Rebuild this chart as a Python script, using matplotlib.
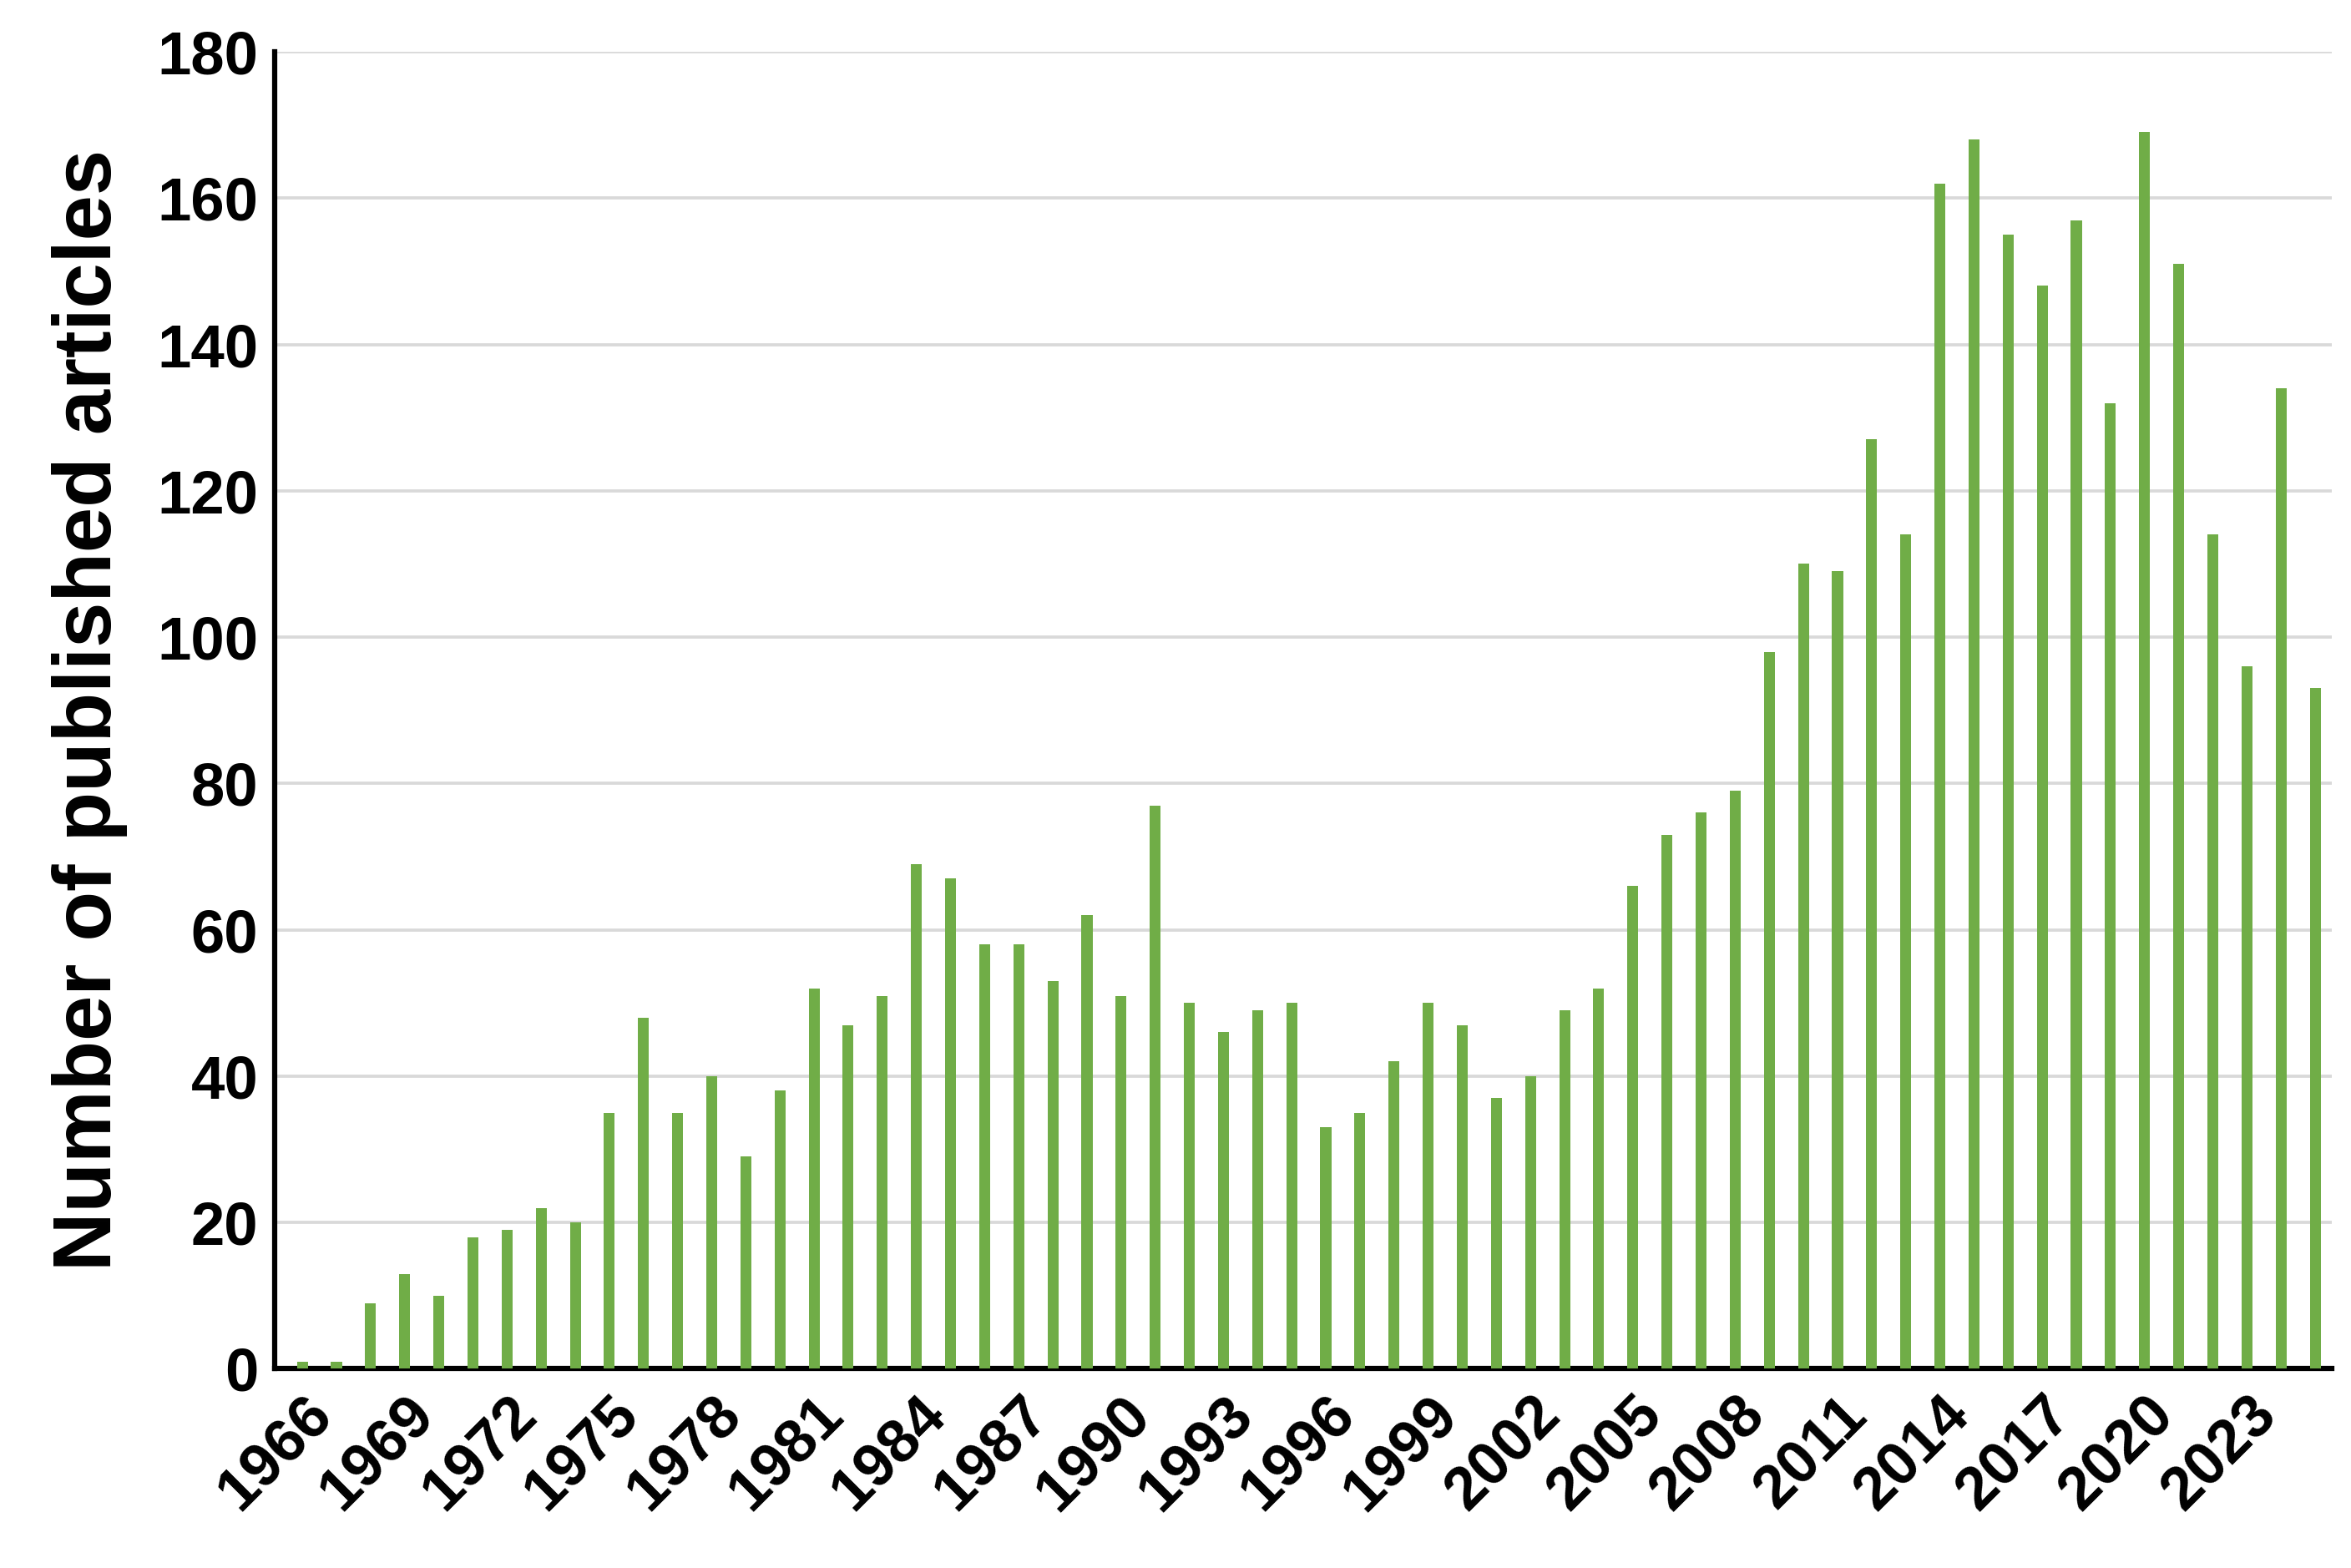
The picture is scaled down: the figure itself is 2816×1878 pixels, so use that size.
import matplotlib
matplotlib.use("Agg")
import matplotlib.pyplot as plt

years = list(range(1966, 2026))
counts = [1, 1, 9, 13, 10, 18, 19, 22, 20, 35, 48, 35, 40, 29, 38, 52, 47, 51, 69, 67,
          58, 58, 53, 62, 51, 77, 50, 46, 49, 50, 33, 35, 42, 50, 47, 37, 40, 49, 52, 66,
          73, 76, 79, 98, 110, 109, 127, 114, 162, 168, 155, 148, 157, 132, 169, 151, 114, 96, 134, 93]
tick_years = list(range(1966, 2024, 3))
yticks = list(range(0, 181, 20))

plt.rcParams['font.family'] = ['Liberation Sans', 'DejaVu Sans']
fig = plt.figure(figsize=(2816/180, 1878/180), dpi=180)
ax = fig.add_axes([0.117, 0.127, 0.875, 0.84])
ax.bar(years, counts, width=0.32, color='#70AD47', zorder=3)
ax.set_xlim(1965.2, 2025.5)
ax.set_ylim(0, 180)
ax.set_yticks(yticks)
ax.set_xticks(tick_years)
ax.set_xticklabels([str(y) for y in tick_years], rotation=45, ha='right', rotation_mode='anchor',
                   fontsize=29, fontweight='bold')
ax.set_yticklabels([str(v) for v in yticks], fontsize=29, fontweight='bold')
ax.set_ylabel('Number of published articles', fontsize=39, fontweight='bold', labelpad=14)
ax.grid(axis='y', color='#d9d9d9', linewidth=1.5, zorder=0)
for s in ['top', 'right']:
    ax.spines[s].set_visible(False)
for s in ['left', 'bottom']:
    ax.spines[s].set_linewidth(2.5)
ax.tick_params(axis='both', length=0, pad=8)
fig.savefig('out.png', dpi=180)
